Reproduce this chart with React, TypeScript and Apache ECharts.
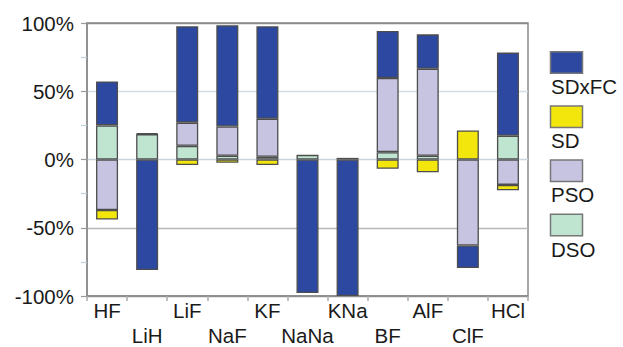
import React, { useEffect, useRef } from "react";
import * as echarts from "echarts";

const categories = ["HF", "LiH", "LiF", "NaF", "KF", "NaNa", "KNa", "BF", "AlF", "ClF", "HCl"];
// stacking order from zero outward: DSO, PSO, SD, SDxFC
const DSO = [25, 18.6, 10, 2.7, 2, 3.4, null, 5.4, 2.7, null, 17.4];
const PSO = [-37, 0.7, 17, 21.5, 27.8, null, 1.2, 54.3, 63.8, -63, -18.6];
const SD = [-7, null, -4, -2.4, -4, null, null, -6.8, -9.3, 21.3, -3.9];
const SDxFC = [32.2, -81, 70.6, 74.1, 67.8, -97.8, -100, 34.5, 25.2, -16.5, 60.9];

const legendNames = ["SDxFC", "SD", "PSO", "DSO"];
const colors: Record<string, string> = {
  SDxFC: "#2d48a0",
  SD: "#f3e60c",
  PSO: "#c7c4e2",
  DSO: "#bfe4cf",
};
const yTicks = [-100, -50, 0, 50, 100];

const FONT = "'Liberation Sans', Arial, sans-serif";

export default function App() {
  const ref = useRef<HTMLDivElement>(null);
  useEffect(() => {
    if (!ref.current) return;
    const chart = echarts.init(ref.current, null, { renderer: "svg" });
    const seriesData: Record<string, (number | null)[]> = { DSO, PSO, SD, SDxFC };
    const order = ["DSO", "PSO", "SD", "SDxFC"];
    const legendGraphics: any[] = [];
    legendNames.forEach((n, i) => {
      const top = 51.7 + i * 54.2;
      legendGraphics.push({
        type: "rect",
        shape: { x: 550.5, y: top, width: 32, height: 21.5 },
        style: { fill: colors[n], stroke: "#777", lineWidth: 1.5 },
      });
      legendGraphics.push({
        type: "text",
        x: 551,
        y: top + 34.8,
        style: {
          text: n,
          font: `20.5px ${FONT}`,
          fill: "#1a1a1a",
          verticalAlign: "middle",
          align: "left",
        },
      });
    });
    chart.setOption({
      animation: false,
      textStyle: { fontFamily: FONT },
      grid: {
        left: 87,
        right: 95,
        top: 23,
        bottom: 51,
        containLabel: false,
        outerBoundsMode: "none",
        show: true,
        borderColor: "#8a8a8a",
        borderWidth: 1.5,
        backgroundColor: "transparent",
      },
      xAxis: {
        type: "category",
        data: categories,
        axisLine: { onZero: false, lineStyle: { color: "#8a8a8a", width: 1.5 } },
        axisTick: { show: true, length: 5, lineStyle: { color: "#aaa", width: 1.5 } },
        axisLabel: {
          interval: 0,
          margin: 4,
          fontSize: 20.5,
          lineHeight: 25.3,
          color: "#1a1a1a",
          fontFamily: FONT,
          formatter: (v: string, i: number) => (i % 2 === 1 ? `\n{b|${v}}` : `{a|${v}}`),
          rich: {
            a: { fontSize: 20.5, lineHeight: 20, fontFamily: FONT, color: "#1a1a1a" },
            b: { fontSize: 20.5, lineHeight: 19.5, fontFamily: FONT, color: "#1a1a1a" },
          },
        },
      },
      yAxis: {
        type: "value",
        min: yTicks[0],
        max: yTicks[yTicks.length - 1],
        interval: 50,
        axisLine: { show: true, lineStyle: { color: "#8a8a8a", width: 1.5 } },
        axisTick: { show: true, length: 6, lineStyle: { color: "#999", width: 1.2 } },
        minorTick: { show: true, splitNumber: 2, length: 6, lineStyle: { color: "#bcd0dc", width: 1.2 } },
        splitLine: {
          show: true,
          lineStyle: { color: ["#999", "#b8b8b8", "#c9d5dd", "#d3dfe7", "#8a8a8a"], width: 1.3 },
        },
        axisLabel: {
          margin: 13,
          fontSize: 20.5,
          color: "#1a1a1a",
          fontFamily: FONT,
          formatter: "{value}%",
        },
      },
      series: order.map((n) => ({
        name: n,
        type: "bar",
        stack: "total",
        data: seriesData[n],
        barWidth: 22,
        itemStyle: { color: colors[n], borderColor: "#4d4d4d", borderWidth: 1.3 },
      })),
      graphic: legendGraphics,
    });
    return () => chart.dispose();
  }, []);
  return (
    <div
      ref={ref}
      style={{ position: "fixed", left: 0, top: 0, width: 623, height: 347, background: "#fff" }}
    />
  );
}
